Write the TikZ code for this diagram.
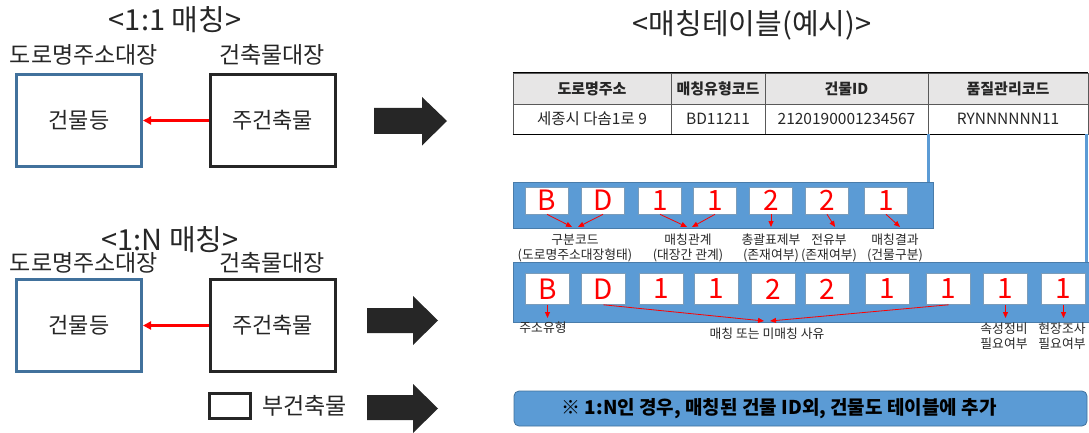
\documentclass[tikz,border=0pt]{standalone}
\usepackage{fontspec}
\setmainfont{Noto Sans CJK KR}
\usetikzlibrary{arrows.meta,positioning}
\definecolor{boxblue}{HTML}{41719C}
\definecolor{barblue}{HTML}{5B9BD5}
\definecolor{dark}{HTML}{262626}
\definecolor{hdr}{HTML}{E7E6E6}
\definecolor{rulegray}{HTML}{595959}
\tikzset{
  titletxt/.style={font=\fontsize{29}{31}\selectfont, text=dark, inner sep=0pt},
  lbltxt/.style={font=\fontsize{23}{25}\selectfont, text=dark, inner sep=0pt},
  roadbox/.style={draw=boxblue, line width=3pt, minimum width=125pt, minimum height=92pt, font=\fontsize{22}{24}\selectfont, text=dark},
  bldbox/.style={draw=dark, line width=3pt, minimum width=125pt, minimum height=92pt, font=\fontsize{22}{24}\selectfont, text=dark},
  redarrow/.style={draw=red, line width=2.5pt, -{Triangle[length=8pt,width=8pt]}},
  bigarrow/.style={fill=dark},
  hcell/.style={draw=rulegray, line width=0.8pt, fill=hdr, minimum height=31pt, font=\bfseries\fontsize{15}{17}\selectfont, text=dark, inner sep=0pt},
  dcell/.style={draw=rulegray, line width=0.8pt, fill=white, minimum height=30pt, font=\fontsize{15.5}{17}\selectfont, text=dark, inner sep=0pt},
  bar/.style={fill=barblue, draw=barblue!80!black, line width=0.6pt, inner sep=0pt},
  digit/.style={fill=white, draw=boxblue!70, line width=0.6pt, inner sep=0pt, text=red, font=\fontsize{28}{28}\selectfont},
  smallred/.style={draw=red, line width=0.8pt, -{Triangle[length=6pt,width=5pt]}},
  smalltxt/.style={font=\fontsize{12.8}{15}\selectfont, text=dark, align=center, inner sep=0pt},
  link/.style={draw=barblue, line width=2.2pt},
  banner/.style={fill=barblue, draw=boxblue, line width=0.8pt, rounded corners=5pt, minimum width=573pt, minimum height=35pt},
  bannertxt/.style={font=\bfseries\fontsize{19}{21}\selectfont, text=black, inner sep=0pt}
}
\begin{document}
\begin{tikzpicture}[x=1pt,y=-1pt]
\useasboundingbox (0,0) rectangle (1089,433);

% ---------- 1:1 ----------
\node[titletxt] (t11) at (175,20) {<1:1 매칭>};
\node[lbltxt] (r1lbl) at (84,55) {도로명주소대장};
\node[lbltxt] (b1lbl) at (272,55) {건축물대장};
\node[roadbox] (r1) at (79,120.5) {건물등};
\node[bldbox] (b1) at (272.5,120.5) {주건축물};
\draw[redarrow] (b1.west) -- (r1.east);
\fill[bigarrow] (374,108) -- (422,108) -- (422,97) -- (447,121) -- (422,145.5) -- (422,134) -- (374,134) -- cycle;

% ---------- 1:N ----------
\node[titletxt] (t1n) at (170,240) {<1:N 매칭>};
\node[lbltxt] (r2lbl) at (84,263) {도로명주소대장};
\node[lbltxt] (b2lbl) at (272,263) {건축물대장};
\node[roadbox] (r2) at (79,325.5) {건물등};
\node[bldbox] (b2) at (272.5,325.5) {주건축물};
\draw[redarrow] (b2.west) -- (r2.east);
\node[draw=dark, line width=3pt, minimum width=41pt, minimum height=25pt, inner sep=0pt] (sb) at (230,406) {};
\node[lbltxt, right=10pt of sb] (sblbl) {부건축물};
\fill[bigarrow] (367,308) -- (413,308) -- (413,296) -- (438,320.5) -- (413,345) -- (413,333) -- (367,333) -- cycle;
\fill[bigarrow] (367,395) -- (413,395) -- (413,384) -- (438,408.5) -- (413,433) -- (413,420) -- (367,420) -- cycle;

% ---------- table ----------
\node[titletxt] (t2) at (752,25) {<매칭테이블(예시)>};
\node[hcell, minimum width=158pt] (h1) at (592,88.5) {도로명주소};
\node[hcell, minimum width=94pt] (h2) at (718,88.5) {매칭유형코드};
\node[hcell, minimum width=163pt] (h3) at (846.5,88.5) {건물ID};
\node[hcell, minimum width=160pt] (h4) at (1008,88.5) {품질관리코드};
\node[dcell, minimum width=158pt] (d1) at (592,119) {세종시 다솜1로 9};
\node[dcell, minimum width=94pt] (d2) at (718,119) {BD11211};
\node[dcell, minimum width=163pt] (d3) at (846.5,119) {2120190001234567};
\node[dcell, minimum width=160pt] (d4) at (1008,119) {RYNNNNNN11};
\draw[black, line width=1pt] (h1.north west) -- (h4.north east);
\draw[black, line width=1pt] (d1.south west) -- (d4.south east);

% ---------- bar 1 ----------
\node[bar, minimum width=420pt, minimum height=46pt] (bar1) at (723,205) {};
\draw[link] (d3.south east) -- (d3.south east |- bar1.north);
\foreach \n/\x/\c in {a/547/B, b/603/D, c/660/1, d/715/1, e/771/2, f/827/2, g/886/1}
  \node[digit, minimum width=43pt, minimum height=27pt] (p\n) at (\x,200.5) {\c};
\coordinate (qa) at (572,227);
\coordinate (qb) at (578,227);
\coordinate (qc) at (687,227);
\coordinate (qd) at (692,227);
\coordinate (qe) at (771,227);
\coordinate (qf) at (835,227);
\coordinate (qg) at (900,227);
\foreach \n in {a,b,c,d,e,f,g} \draw[smallred] (p\n.south) -- (q\n);
\node[smalltxt] (l1) at (575,248) {구분코드\\(도로명주소대장형태)};
\node[smalltxt] (l2) at (688,248) {매칭관계\\(대장간 관계)};
\node[smalltxt] (l3) at (771,248) {총괄표제부\\(존재여부)};
\node[smalltxt] (l4) at (829,248) {전유부\\(존재여부)};
\node[smalltxt] (l5) at (895,248) {매칭결과\\(건물구분)};

% ---------- bar 2 ----------
\node[bar, minimum width=577pt, minimum height=60pt] (bar2) at (801.5,292) {};
\draw[link] ([xshift=-2pt]d4.south east) -- ([xshift=-2pt]d4.south east |- bar2.north);
\foreach \n/\x/\c in {a/547.5/B, b/603.5/D, c/661.5/1, d/716.5/1, e/773.5/2, f/827.5/2, g/887.5/1, h/948.5/1, i/1005.5/1, j/1063.5/1}
  \node[digit, minimum width=44pt, minimum height=31pt] (s\n) at (\x,289) {\c};
\coordinate (ua) at (547.5,318);
\coordinate (ub) at (764,321);
\coordinate (uh) at (770,321);
\coordinate (ui) at (1005.5,318);
\coordinate (uj) at (1063.5,318);
\foreach \n in {a,b,h,i,j} \draw[smallred] (s\n.south) -- (u\n);
\node[smalltxt] (m1) at (543,328) {주소유형};
\node[smalltxt] (m2) at (767,334) {매칭 또는 미매칭 사유};
\node[smalltxt] (m3) at (1004,336) {속성정비\\필요여부};
\node[smalltxt] (m4) at (1062,336) {현장조사\\필요여부};

% ---------- banner ----------
\node[banner] (note) at (800.5,408.5) {};
\node[bannertxt] (notetxt) at (779,408.5) {※ 1:N인 경우, 매칭된 건물 ID외, 건물도 테이블에 추가};
\end{tikzpicture}
\end{document}
